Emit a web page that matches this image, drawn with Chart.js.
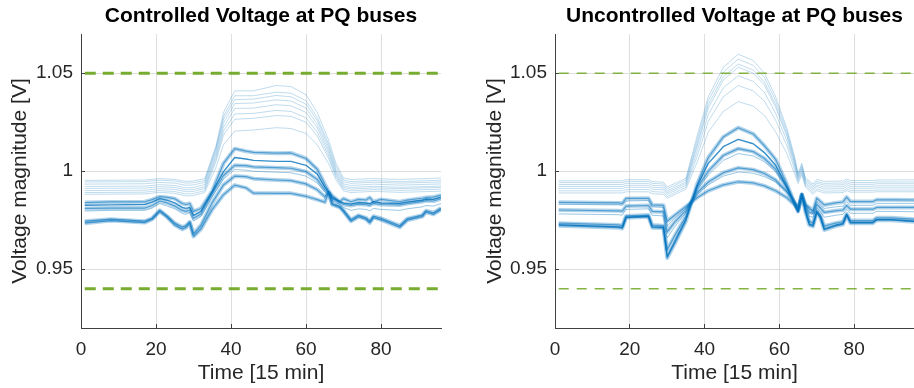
<!DOCTYPE html>
<html>
<head>
<meta charset="utf-8">
<script src="https://cdn.jsdelivr.net/npm/chart.js@4.4.1/dist/chart.umd.min.js"></script>
<style>
  html, body { margin: 0; padding: 0; background: #fff; overflow: hidden; }
  #wrap { position: relative; width: 914px; height: 388px; }
  .panel { position: absolute; top: 0; height: 388px; }
  #ctrl { left: 0; width: 460px; }
  #unctrl { left: 475px; width: 439px; }
</style>
</head>
<body>
<div id="wrap">
  <div class="panel" id="ctrl"><canvas id="ctrlChart" width="460" height="388"></canvas></div>
  <div class="panel" id="unctrl"><canvas id="unctrlChart" width="439" height="388"></canvas></div>
</div>
<script>
// axis ticks and voltage limits
const xTicks = [0, 20, 40, 60, 80];
const yTicks = [0.95, 1, 1.05];
const vUpper = 1.05;
const vLower = 0.94;

// ---- controlled case ----
const timeCtrl = [1, 8, 17, 19, 21, 23, 25, 27, 28, 29, 30, 32, 35, 38, 41, 44, 46, 52, 56, 60, 63, 65, 66, 67, 69, 70, 72, 74, 76, 77, 78, 80, 85, 87, 91, 92, 94, 96];
const ctrlBus1 = [.9840, .9843, .9844, .9855, .9870, .9866, .9860, .9835, .9830, .9835, .9795, .9810, .9900, 1.0040, 1.0115, 1.0102, 1.0096, 1.0092, 1.0093, 1.0065, 1.0010, .9935, .9900, .9875, .9845, .9860, .9844, .9856, .9853, .9866, .9844, .9856, .9844, .9852, .9862, .9866, .9868, .9878];
const ctrlBus2 = [.9826, .9828, .9830, .9842, .9860, .9852, .9838, .9815, .9810, .9815, .9775, .9795, .9895, .9998, 1.0070, 1.0062, 1.0055, 1.0050, 1.0050, 1.0030, .9985, .9920, .9895, .9865, .9845, .9838, .9832, .9840, .9838, .9835, .9845, .9838, .9836, .9842, .9852, .9858, .9856, .9868];
const ctrlBus3 = [.9810, .9812, .9812, .9825, .9848, .9838, .9822, .9800, .9795, .9802, .9760, .9782, .9885, .9978, 1.0030, 1.0028, 1.0022, 1.0018, 1.0015, .9998, .9958, .9905, .9888, .9860, .9840, .9830, .9825, .9832, .9830, .9826, .9836, .9830, .9828, .9835, .9845, .9850, .9848, .9860];
const ctrlBus4 = [.9797, .9800, .9800, .9812, .9835, .9822, .9808, .9785, .9780, .9790, .9745, .9770, .9870, .9960, 1.0009, 1.0005, 1.0000, .9995, .9992, .9975, .9940, .9895, .9880, .9850, .9830, .9815, .9800, .9808, .9805, .9798, .9810, .9805, .9800, .9808, .9818, .9825, .9822, .9835];
const ctrlBus5 = [.9745, .9755, .9745, .9760, .9800, .9770, .9735, .9715, .9722, .9742, .9680, .9725, .9840, .9930, .9975, .9972, .9962, .9955, .9952, .9935, .9905, .9870, .9890, .9835, .9820, .9800, .9752, .9775, .9762, .9745, .9770, .9760, .9722, .9758, .9776, .9798, .9788, .9812];
const ctrlBus6 = [.9735, .9748, .9738, .9755, .9795, .9765, .9725, .9704, .9712, .9735, .9667, .9705, .9805, .9880, .9929, .9915, .9888, .9887, .9887, .9872, .9855, .9842, .9890, .9830, .9815, .9795, .9745, .9768, .9755, .9736, .9764, .9752, .9714, .9750, .9768, .9792, .9780, .9804];

const timeCtrlLight = [1, 17, 21, 25, 28, 30, 33, 36, 38, 41, 46, 52, 56, 60, 63, 66, 68, 70, 72, 78, 85, 96];
const ctrlLight1 = [.9953, .9955, .9962, .9958, .9948, .9950, .9962, 1.0130, 1.0300, 1.0410, 1.0410, 1.0437, 1.0432, 1.0390, 1.0300, 1.0160, 1.0040, .9965, .9958, .9962, .9958, .9965];
const ctrlLight2 = [.9945, .9947, .9954, .9950, .9939, .9941, .9952, 1.0120, 1.0280, 1.0385, 1.0385, 1.0403, 1.0398, 1.0360, 1.0275, 1.0140, 1.0025, .9955, .9947, .9952, .9947, .9954];
const ctrlLight3 = [.9934, .9936, .9943, .9939, .9928, .9930, .9943, 1.0110, 1.0265, 1.0365, 1.0368, 1.0386, 1.0380, 1.0342, 1.0260, 1.0125, 1.0010, .9946, .9938, .9944, .9939, .9945];
const ctrlLight4 = [.9922, .9924, .9931, .9927, .9915, .9917, .9932, 1.0095, 1.0245, 1.0345, 1.0348, 1.0364, 1.0358, 1.0322, 1.0240, 1.0110, .9998, .9935, .9927, .9934, .9929, .9935];
const ctrlLight5 = [.9912, .9914, .9921, .9917, .9905, .9907, .9920, 1.0080, 1.0225, 1.0320, 1.0322, 1.0339, 1.0334, 1.0300, 1.0222, 1.0095, .9988, .9925, .9917, .9923, .9918, .9924];
const ctrlLight6 = [.9901, .9903, .9911, .9907, .9895, .9897, .9912, 1.0065, 1.0205, 1.0292, 1.0295, 1.0310, 1.0305, 1.0272, 1.0200, 1.0080, .9978, .9917, .9909, .9915, .9911, .9917];
const ctrlLight7 = [.9891, .9893, .9901, .9896, .9884, .9886, .9901, 1.0050, 1.0185, 1.0265, 1.0270, 1.0284, 1.0280, 1.0250, 1.0180, 1.0065, .9968, .9908, .9900, .9906, .9902, .9908];
const ctrlLight8 = [.9882, .9884, .9892, .9887, .9874, .9876, .9892, 1.0020, 1.0135, 1.0205, 1.0210, 1.0222, 1.0218, 1.0192, 1.0135, 1.0040, .9955, .9899, .9891, .9897, .9892, .9898];

// ---- uncontrolled case ----
const timeUnctrl = [1, 17, 18, 19, 25, 26, 29, 30, 32, 35, 38, 41, 45, 49, 53, 56, 59, 62, 64, 65, 66, 67, 68, 69, 70, 71, 72, 75, 77, 78, 79, 85, 86, 90, 96];
const unctrlBus1 = [.9841, .9838, .9836, .9861, .9862, .9828, .9826, .9745, .9775, .9820, .9865, .9900, .9930, .9946, .9940, .9925, .9900, .9865, .9830, .9805, .9880, .9830, .9815, .9795, .9862, .9845, .9828, .9838, .9843, .9868, .9845, .9845, .9854, .9854, .9853];
const unctrlBus2 = [.9831, .9828, .9826, .9848, .9850, .9818, .9815, .9720, .9760, .9810, .9880, .9930, .9975, .9996, .9990, .9972, .9945, .9895, .9848, .9818, .9878, .9830, .9805, .9800, .9845, .9828, .9810, .9818, .9822, .9845, .9826, .9826, .9836, .9836, .9836];
const unctrlBus3 = [.9802, .9798, .9796, .9822, .9825, .9795, .9792, .9690, .9740, .9800, .9890, .9945, .9992, 1.0017, 1.0008, .9988, .9955, .9895, .9842, .9810, .9875, .9822, .9790, .9785, .9830, .9812, .9790, .9798, .9802, .9825, .9806, .9806, .9815, .9815, .9815];
const unctrlBus4 = [.9782, .9778, .9776, .9805, .9808, .9775, .9772, .9660, .9715, .9790, .9905, .9980, 1.0055, 1.0090, 1.0078, 1.0048, .9998, .9915, .9845, .9805, .9878, .9815, .9770, .9765, .9815, .9795, .9765, .9775, .9780, .9805, .9785, .9785, .9795, .9795, .9793];
const unctrlBus5 = [.9735, .9726, .9722, .9772, .9776, .9725, .9722, .9600, .9670, .9770, .9915, 1.0000, 1.0080, 1.0115, 1.0100, 1.0065, 1.0010, .9915, .9838, .9798, .9882, .9805, .9745, .9735, .9800, .9775, .9720, .9735, .9742, .9782, .9748, .9748, .9762, .9762, .9755];
const unctrlBus6 = [.9726, .9716, .9712, .9765, .9770, .9716, .9714, .9565, .9640, .9755, .9925, 1.0040, 1.0125, 1.0162, 1.0140, 1.0095, 1.0030, .9920, .9835, .9792, .9885, .9795, .9730, .9722, .9792, .9765, .9705, .9724, .9732, .9778, .9738, .9738, .9753, .9753, .9745];
const unctrlBus7 = [.9722, .9712, .9708, .9762, .9768, .9712, .9710, .9557, .9630, .9745, .9935, 1.0070, 1.0175, 1.0222, 1.0190, 1.0130, 1.0060, .9935, .9840, .9795, .9880, .9790, .9725, .9718, .9790, .9760, .9700, .9720, .9728, .9775, .9735, .9735, .9750, .9750, .9742];

const timeUnctrlLight = [1, 18, 19, 25, 26, 29, 30, 35, 38, 41, 45, 49, 53, 56, 59, 62, 64, 65, 66, 67, 69, 70, 72, 77, 78, 79, 85, 86, 96];
const unctrlLight1 = [.9951, .9951, .9957, .9957, .9947, .9944, .9920, .9963, 1.0180, 1.0380, 1.0530, 1.0597, 1.0565, 1.0500, 1.0380, 1.0220, 1.0080, .9990, 1.0040, .9965, .9935, .9958, .9948, .9950, .9960, .9952, .9952, .9955, .9956];
const unctrlLight2 = [.9942, .9942, .9948, .9948, .9938, .9935, .9910, .9955, 1.0160, 1.0360, 1.0505, 1.0572, 1.0540, 1.0478, 1.0360, 1.0205, 1.0068, .9982, 1.0030, .9958, .9926, .9948, .9938, .9940, .9950, .9942, .9942, .9945, .9945];
const unctrlLight3 = [.9932, .9932, .9938, .9938, .9928, .9925, .9900, .9945, 1.0140, 1.0340, 1.0482, 1.0547, 1.0516, 1.0455, 1.0340, 1.0190, 1.0055, .9974, 1.0020, .9950, .9918, .9940, .9929, .9931, .9941, .9933, .9933, .9936, .9936];
const unctrlLight4 = [.9922, .9922, .9928, .9928, .9918, .9915, .9891, .9937, 1.0125, 1.0322, 1.0465, 1.0530, 1.0500, 1.0440, 1.0325, 1.0178, 1.0045, .9966, 1.0012, .9942, .9909, .9930, .9919, .9921, .9931, .9923, .9923, .9925, .9925];
const unctrlLight5 = [.9912, .9912, .9918, .9918, .9908, .9905, .9882, .9928, 1.0100, 1.0290, 1.0425, 1.0487, 1.0458, 1.0402, 1.0295, 1.0155, 1.0030, .9958, 1.0002, .9934, .9901, .9921, .9909, .9911, .9921, .9913, .9913, .9915, .9915];
const unctrlLight6 = [.9900, .9900, .9906, .9906, .9896, .9893, .9871, .9918, 1.0075, 1.0255, 1.0380, 1.0437, 1.0410, 1.0358, 1.0260, 1.0130, 1.0012, .9948, .9992, .9926, .9891, .9910, .9898, .9900, .9910, .9902, .9902, .9904, .9904];
const unctrlLight7 = [.9889, .9889, .9895, .9895, .9885, .9882, .9862, .9908, 1.0045, 1.0200, 1.0305, 1.0355, 1.0332, 1.0285, 1.0200, 1.0090, .9990, .9938, .9980, .9918, .9882, .9901, .9889, .9891, .9901, .9893, .9893, .9895, .9895];

Chart.defaults.font.family = "'Liberation Sans', Arial, Helvetica, sans-serif";

const blue = a => `rgba(0, 114, 189, ${a})`;
const green = '#77ac30';

// line looks: thin pale buses, mid buses, dark buses and thick bundles
const looks = {
    light: [{ color: blue(0.25), width: 1 }],
    mid: [{ color: blue(0.4), width: 1 }],
    dark: [{ color: blue(0.8), width: 1.4 }],
    band: [{ color: blue(0.55), width: 1.2 }, { color: blue(0.3), width: 4 }]
};

function points(times, values) {
    return times.map((t, i) => ({ x: t, y: values[i] }));
}

function makeDatasets(lines, limitStyle) {
    const sets = [];
    // voltage limits on top
    [vUpper, vLower].forEach(v => {
        sets.push({
            data: [{ x: 1, y: v }, { x: 96, y: v }],
            borderColor: limitStyle.color,
            borderWidth: limitStyle.width,
            borderDash: limitStyle.dash,
            pointRadius: 0
        });
    });
    lines.forEach(([times, values, look]) => {
        looks[look].forEach(l => {
            sets.push({
                data: points(times, values),
                borderColor: l.color,
                borderWidth: l.width,
                pointRadius: 0,
                tension: 0,
                borderJoinStyle: 'round'
            });
        });
    });
    return sets;
}

function makeChart(id, title, lines, limitStyle, axisWidth, rightPad) {
    const ctx = document.getElementById(id).getContext('2d');
    return new Chart(ctx, {
        type: 'line',
        data: { datasets: makeDatasets(lines, limitStyle) },
        options: {
            responsive: false,
            animation: false,
            events: [],
            layout: { padding: { left: 0, right: rightPad, top: 0, bottom: 0 } },
            plugins: {
                legend: { display: false },
                tooltip: { enabled: false },
                title: {
                    display: true,
                    text: title,
                    fullSize: false,
                    color: '#000',
                    font: { size: 21, weight: 'bold' },
                    padding: { top: 4, bottom: 4.8 }
                }
            },
            scales: {
                x: {
                    type: 'linear',
                    min: 0,
                    max: 96,
                    afterBuildTicks: s => { s.ticks = xTicks.map(v => ({ value: v })); },
                    afterFit: s => { s.height = 60; },
                    // short inward tick marks
                    grid: { color: '#dedede', tickColor: '#404040', tickLength: -4 },
                    border: { color: '#404040', width: 1 },
                    ticks: { padding: 14, color: '#262626', font: { size: 19 }, maxRotation: 0, callback: v => String(v) },
                    title: { display: true, text: 'Time [15 min]', color: '#262626', font: { size: 21 }, padding: { top: 0, bottom: 2 } }
                },
                y: {
                    type: 'linear',
                    min: 0.92,
                    max: 1.07,
                    afterBuildTicks: s => { s.ticks = yTicks.map(v => ({ value: v })); },
                    afterFit: s => { s.width = axisWidth; },
                    grid: { color: '#dedede', tickColor: '#404040', tickLength: -4 },
                    border: { color: '#404040', width: 1 },
                    ticks: { padding: 12, color: '#262626', font: { size: 19 }, callback: v => String(v) },
                    title: { display: true, text: 'Voltage magnitude [V]', color: '#262626', font: { size: 21 }, padding: { top: 8, bottom: 0 } }
                }
            }
        }
    });
}

const ctrlLines = [
    [timeCtrl, ctrlBus1, 'band'],
    [timeCtrl, ctrlBus2, 'dark'],
    [timeCtrl, ctrlBus3, 'band'],
    [timeCtrl, ctrlBus4, 'mid'],
    [timeCtrl, ctrlBus5, 'band'],
    [timeCtrl, ctrlBus6, 'band'],
    [timeCtrlLight, ctrlLight1, 'light'],
    [timeCtrlLight, ctrlLight2, 'light'],
    [timeCtrlLight, ctrlLight3, 'light'],
    [timeCtrlLight, ctrlLight4, 'light'],
    [timeCtrlLight, ctrlLight5, 'light'],
    [timeCtrlLight, ctrlLight6, 'light'],
    [timeCtrlLight, ctrlLight7, 'light'],
    [timeCtrlLight, ctrlLight8, 'light']
];

const unctrlLines = [
    [timeUnctrl, unctrlBus1, 'band'],
    [timeUnctrl, unctrlBus2, 'mid'],
    [timeUnctrl, unctrlBus3, 'band'],
    [timeUnctrl, unctrlBus4, 'mid'],
    [timeUnctrl, unctrlBus5, 'band'],
    [timeUnctrl, unctrlBus6, 'dark'],
    [timeUnctrl, unctrlBus7, 'band'],
    [timeUnctrlLight, unctrlLight1, 'light'],
    [timeUnctrlLight, unctrlLight2, 'light'],
    [timeUnctrlLight, unctrlLight3, 'light'],
    [timeUnctrlLight, unctrlLight4, 'light'],
    [timeUnctrlLight, unctrlLight5, 'light'],
    [timeUnctrlLight, unctrlLight6, 'light'],
    [timeUnctrlLight, unctrlLight7, 'light']
];

makeChart('ctrlChart', 'Controlled Voltage at PQ buses', ctrlLines,
    { color: green, width: 3, dash: [11, 7] }, 81, 19);
makeChart('unctrlChart', 'Uncontrolled Voltage at PQ buses', unctrlLines,
    { color: 'rgba(119, 172, 48, 0.9)', width: 1.5, dash: [10, 8] }, 80, 0);
</script>
</body>
</html>
